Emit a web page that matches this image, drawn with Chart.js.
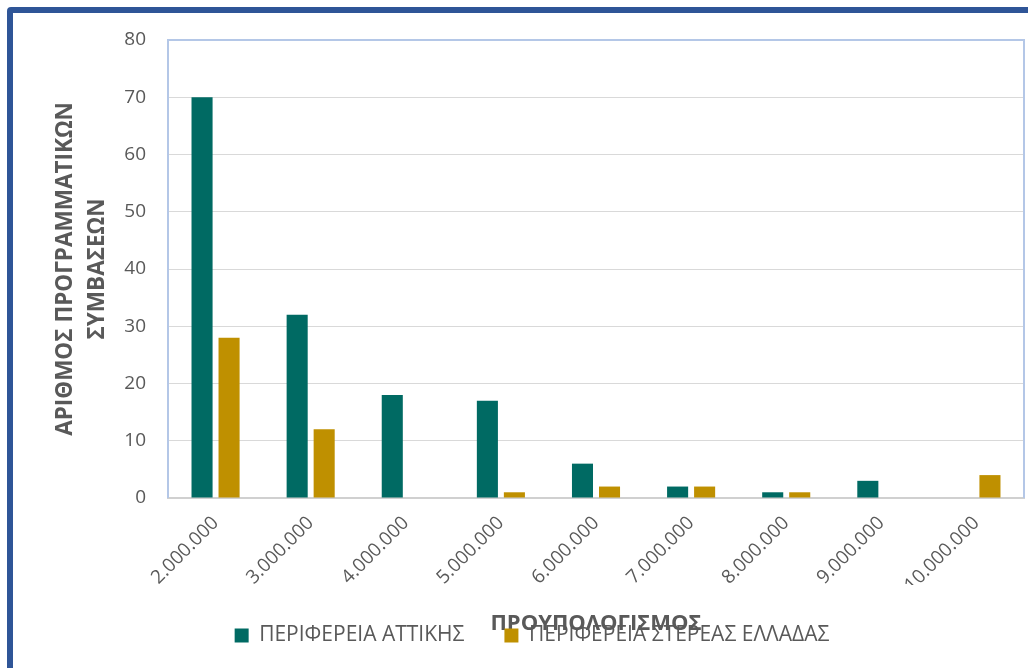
<!DOCTYPE html>
<html>
<head>
<meta charset="utf-8">
<script src="https://cdn.jsdelivr.net/npm/chart.js@4/dist/chart.umd.min.js"></script>
<style>
  html, body { margin: 0; padding: 0; background: #ffffff; overflow: hidden; }
  #wrap { position: absolute; left: 0; top: 0; width: 1028px; height: 668px; }
  #frame { position: absolute; left: 7px; top: 7px; width: 1100px; height: 800px;
           border: 6px solid #2F5597; border-radius: 4px; pointer-events: none; box-sizing: border-box; }
</style>
</head>
<body>
<div id="wrap"><canvas id="c" width="1028" height="668"></canvas></div>
<div id="frame"></div>
<script>
const categories = ['2.000.000','3.000.000','4.000.000','5.000.000','6.000.000','7.000.000','8.000.000','9.000.000','10.000.000'];
const seriesNames = ['ΠΕΡΙΦΕΡΕΙΑ ΑΤΤΙΚΗΣ', 'ΠΕΡΙΦΕΡΕΙΑ ΣΤΕΡΕΑΣ ΕΛΛΑΔΑΣ'];
const atticaValues = [70, 32, 18, 17, 6, 2, 1, 3, 0];
const stereaValues = [28, 12, 0, 1, 2, 2, 1, 0, 4];
const yTicks = [0, 10, 20, 30, 40, 50, 60, 70, 80];
const yTitle = ['ΑΡΙΘΜΟΣ ΠΡΟΓΡΑΜΜΑΤΙΚΩΝ', 'ΣΥΜΒΑΣΕΩΝ'];
const xTitle = 'ΠΡΟΥΠΟΛΟΓΙΣΜΟΣ';

const FONT = "'Open Sans', 'Noto Sans', sans-serif";
const TEXT = '#595959';

const plotBorder = {
  id: 'plotBorder',
  beforeDatasetsDraw(chart) {
    const {ctx, chartArea: a} = chart;
    ctx.save();
    ctx.strokeStyle = '#B4C7E7';
    ctx.lineWidth = 2;
    ctx.beginPath();
    ctx.moveTo(a.left, a.bottom);
    ctx.lineTo(a.left, a.top);
    ctx.lineTo(a.right, a.top);
    ctx.lineTo(a.right, a.bottom);
    ctx.stroke();
    ctx.restore();
  }
};

new Chart(document.getElementById('c'), {
  type: 'bar',
  data: {
    labels: categories,
    datasets: [
      { label: seriesNames[0], data: atticaValues, backgroundColor: '#006A63',
        categoryPercentage: 0.568, barPercentage: 0.78 },
      { label: seriesNames[1], data: stereaValues, backgroundColor: '#BF9000',
        categoryPercentage: 0.568, barPercentage: 0.78 }
    ]
  },
  options: {
    responsive: false,
    animation: false,
    devicePixelRatio: 1,
    layout: { padding: { left: 40, right: 4, top: 40, bottom: 12 } },
    plugins: {
      tooltip: { enabled: false },
      legend: {
        position: 'bottom',
        labels: {
          font: { family: FONT, size: 21 },
          color: TEXT,
          boxWidth: 14, boxHeight: 14,
          padding: 40
        }
      }
    },
    scales: {
      x: {
        grid: { display: false, drawTicks: false },
        border: { display: true, color: '#D0D0D0', width: 2 },
        ticks: {
          font: { family: FONT, size: 19 }, color: TEXT,
          minRotation: 45, maxRotation: 45, padding: 14, autoSkip: false
        },
        title: {
          display: true, text: xTitle, color: TEXT,
          font: { family: FONT, size: 22, weight: 'bold' },
          padding: { top: 0, bottom: -52 }
        },
        afterFit(scale) { scale.height = 87; }
      },
      y: {
        min: 0, max: 80,
        afterBuildTicks(scale) { scale.ticks = yTicks.map(v => ({ value: v })); },
        grid: { color: '#D9D9D9', lineWidth: 1, drawTicks: false },
        border: { display: false },
        ticks: { font: { family: FONT, size: 19 }, color: TEXT, padding: 22 },
        title: {
          display: true, text: yTitle, color: TEXT,
          font: { family: FONT, size: 22.5, weight: 'bold', lineHeight: 1.42 },
          padding: { top: 10, bottom: 11 }
        },
        afterFit(scale) { scale.width = 128; }
      }
    }
  },
  plugins: [plotBorder]
});
</script>
</body>
</html>
